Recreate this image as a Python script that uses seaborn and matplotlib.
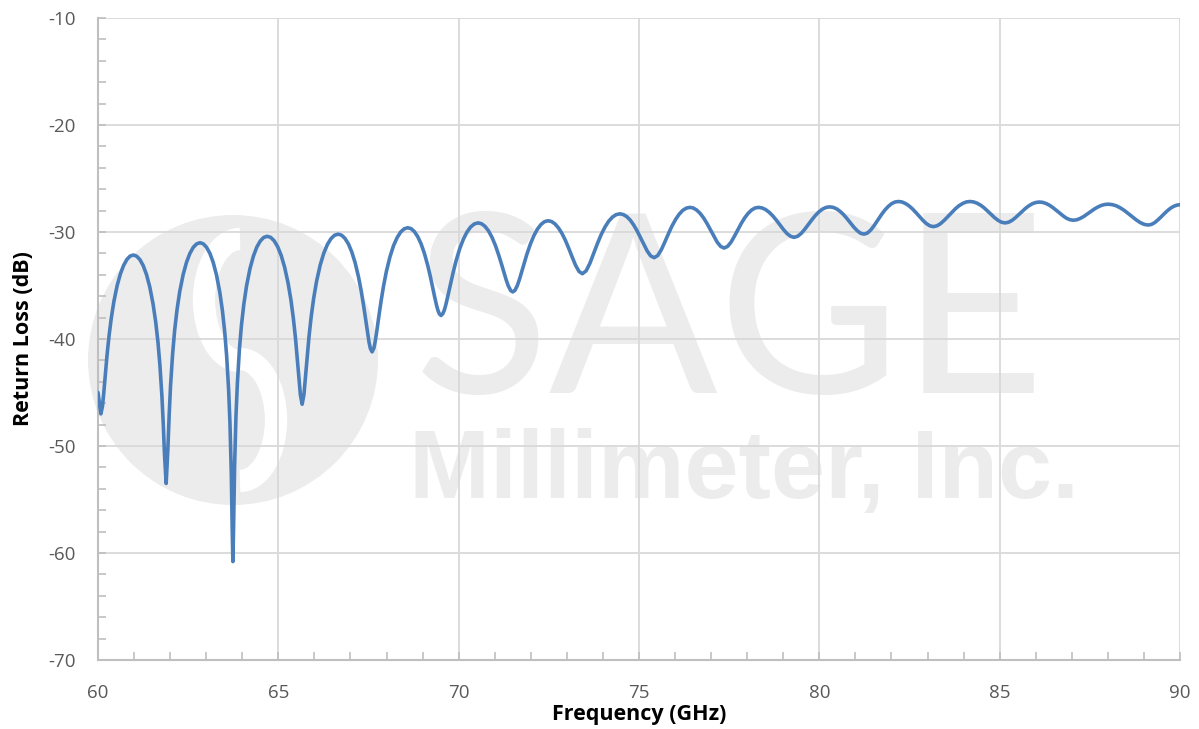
import matplotlib
matplotlib.use("Agg")
import matplotlib.pyplot as plt
from matplotlib.patches import Circle, Arc
from matplotlib.ticker import MultipleLocator
import seaborn as sns

# Return loss trace (GHz, dB)
freq_ghz = [
    60.000, 60.080, 60.125, 60.161, 60.197, 60.251, 60.305, 60.368, 60.440, 60.530,
    60.620, 60.710, 60.800, 60.890, 60.980, 61.071, 61.162, 61.253, 61.344, 61.435,
    61.526, 61.599, 61.663, 61.717, 61.772, 61.808, 61.845, 61.890, 61.937, 61.975,
    62.012, 62.069, 62.125, 62.191, 62.266, 62.360, 62.454, 62.548, 62.642, 62.736,
    62.830, 62.921, 63.012, 63.103, 63.194, 63.285, 63.376, 63.449, 63.513, 63.567,
    63.622, 63.658, 63.695, 63.722, 63.740, 63.759, 63.787, 63.825, 63.864, 63.920,
    63.977, 64.044, 64.120, 64.215, 64.310, 64.405, 64.500, 64.595, 64.690, 64.787,
    64.884, 64.981, 65.078, 65.175, 65.272, 65.350, 65.418, 65.476, 65.534, 65.573,
    65.612, 65.660, 65.710, 65.750, 65.790, 65.850, 65.910, 65.980, 66.060, 66.160,
    66.260, 66.360, 66.460, 66.560, 66.660, 66.754, 66.848, 66.942, 67.036, 67.130,
    67.224, 67.299, 67.365, 67.421, 67.478, 67.515, 67.553, 67.600, 67.650, 67.689,
    67.729, 67.788, 67.848, 67.917, 67.996, 68.095, 68.194, 68.293, 68.392, 68.491,
    68.590, 68.682, 68.774, 68.866, 68.958, 69.050, 69.142, 69.216, 69.280, 69.335,
    69.390, 69.427, 69.464, 69.510, 69.561, 69.603, 69.644, 69.706, 69.768, 69.840,
    69.922, 70.025, 70.128, 70.231, 70.334, 70.437, 70.540, 70.636, 70.732, 70.828,
    70.924, 71.020, 71.116, 71.193, 71.260, 71.318, 71.375, 71.442, 71.500, 71.559,
    71.627, 71.686, 71.745, 71.814, 71.892, 71.990, 72.088, 72.186, 72.284, 72.382,
    72.480, 72.575, 72.670, 72.765, 72.860, 72.955, 73.050, 73.145, 73.240, 73.335,
    73.430, 73.534, 73.638, 73.742, 73.846, 73.950, 74.054, 74.158, 74.262, 74.366,
    74.470, 74.565, 74.660, 74.755, 74.850, 74.945, 75.040, 75.135, 75.230, 75.325,
    75.420, 75.519, 75.618, 75.717, 75.816, 75.915, 76.014, 76.113, 76.212, 76.311,
    76.410, 76.505, 76.600, 76.695, 76.790, 76.885, 76.980, 77.075, 77.170, 77.265,
    77.360, 77.455, 77.550, 77.645, 77.740, 77.835, 77.930, 78.025, 78.120, 78.215,
    78.310, 78.409, 78.508, 78.607, 78.706, 78.805, 78.904, 79.003, 79.102, 79.201,
    79.300, 79.399, 79.498, 79.597, 79.696, 79.795, 79.894, 79.993, 80.092, 80.191,
    80.290, 80.385, 80.480, 80.575, 80.670, 80.765, 80.860, 80.955, 81.050, 81.145,
    81.240, 81.335, 81.430, 81.525, 81.620, 81.715, 81.810, 81.905, 82.000, 82.095,
    82.190, 82.287, 82.384, 82.481, 82.578, 82.675, 82.772, 82.869, 82.966, 83.063,
    83.160, 83.262, 83.364, 83.466, 83.568, 83.670, 83.772, 83.874, 83.976, 84.078,
    84.180, 84.277, 84.374, 84.471, 84.568, 84.665, 84.762, 84.859, 84.956, 85.053,
    85.150, 85.245, 85.340, 85.435, 85.530, 85.625, 85.720, 85.815, 85.910, 86.005,
    86.100, 86.194, 86.288, 86.382, 86.476, 86.570, 86.664, 86.758, 86.852, 86.946,
    87.040, 87.137, 87.234, 87.331, 87.428, 87.525, 87.622, 87.719, 87.816, 87.913,
    88.010, 88.121, 88.232, 88.343, 88.454, 88.565, 88.676, 88.787, 88.898, 89.009,
    89.120, 89.208, 89.296, 89.384, 89.472, 89.560, 89.648, 89.736, 89.824, 89.912,
    90.000,
]
return_loss_db = [
    -45.00, -47.00, -46.27, -45.00, -43.55, -41.49, -39.74, -38.05, -36.50, -35.02,
    -33.92, -33.12, -32.57, -32.25, -32.15, -32.26, -32.58, -33.14, -33.97, -35.13,
    -36.71, -38.39, -40.31, -42.46, -45.33, -47.83, -50.87, -53.50, -50.30, -46.96,
    -44.33, -41.38, -39.20, -37.26, -35.57, -33.99, -32.83, -32.00, -31.43, -31.11,
    -31.00, -31.11, -31.44, -32.00, -32.84, -34.01, -35.61, -37.33, -39.32, -41.58,
    -44.76, -47.80, -52.43, -57.92, -60.80, -57.62, -51.91, -47.23, -44.17, -40.99,
    -38.72, -36.73, -35.01, -33.41, -32.24, -31.40, -30.84, -30.51, -30.40, -30.50,
    -30.82, -31.37, -32.18, -33.30, -34.80, -36.37, -38.11, -39.94, -42.15, -43.75,
    -45.23, -46.10, -45.19, -43.66, -42.02, -39.79, -37.94, -36.19, -34.61, -33.10,
    -31.98, -31.17, -30.62, -30.30, -30.20, -30.30, -30.60, -31.11, -31.86, -32.88,
    -34.21, -35.53, -36.89, -38.19, -39.51, -40.30, -40.90, -41.20, -40.85, -40.17,
    -39.29, -37.85, -36.47, -35.05, -33.68, -32.32, -31.28, -30.53, -30.00, -29.70,
    -29.60, -29.69, -29.97, -30.44, -31.11, -32.00, -33.12, -34.18, -35.20, -36.08,
    -36.90, -37.34, -37.65, -37.80, -37.63, -37.29, -36.80, -35.90, -34.95, -33.88,
    -32.77, -31.60, -30.69, -30.00, -29.52, -29.24, -29.15, -29.23, -29.48, -29.90,
    -30.50, -31.27, -32.22, -33.06, -33.84, -34.48, -35.03, -35.47, -35.60, -35.46,
    -35.00, -34.42, -33.75, -32.95, -32.07, -31.11, -30.32, -29.72, -29.29, -29.03,
    -28.95, -29.02, -29.24, -29.61, -30.11, -30.75, -31.51, -32.32, -33.10, -33.68,
    -33.90, -33.63, -32.93, -32.02, -31.09, -30.25, -29.55, -29.00, -28.61, -28.38,
    -28.30, -28.37, -28.56, -28.88, -29.33, -29.88, -30.52, -31.18, -31.79, -32.24,
    -32.40, -32.20, -31.66, -30.93, -30.16, -29.44, -28.83, -28.34, -27.98, -27.77,
    -27.70, -27.76, -27.95, -28.26, -28.68, -29.20, -29.79, -30.40, -30.96, -31.35,
    -31.50, -31.35, -30.96, -30.40, -29.79, -29.20, -28.68, -28.26, -27.95, -27.76,
    -27.70, -27.75, -27.90, -28.15, -28.48, -28.88, -29.32, -29.76, -30.14, -30.40,
    -30.50, -30.40, -30.13, -29.74, -29.29, -28.85, -28.44, -28.10, -27.85, -27.70,
    -27.65, -27.70, -27.84, -28.07, -28.37, -28.74, -29.14, -29.54, -29.88, -30.12,
    -30.20, -30.09, -29.80, -29.37, -28.89, -28.41, -27.98, -27.63, -27.36, -27.20,
    -27.15, -27.19, -27.33, -27.54, -27.83, -28.17, -28.54, -28.90, -29.21, -29.42,
    -29.50, -29.42, -29.21, -28.90, -28.54, -28.17, -27.83, -27.54, -27.33, -27.19,
    -27.15, -27.19, -27.31, -27.49, -27.74, -28.04, -28.35, -28.66, -28.91, -29.09,
    -29.15, -29.09, -28.92, -28.67, -28.37, -28.07, -27.78, -27.54, -27.35, -27.24,
    -27.20, -27.23, -27.34, -27.50, -27.72, -27.97, -28.23, -28.49, -28.71, -28.85,
    -28.90, -28.86, -28.73, -28.55, -28.32, -28.09, -27.86, -27.67, -27.52, -27.43,
    -27.40, -27.44, -27.55, -27.74, -27.98, -28.27, -28.57, -28.87, -29.12, -29.29,
    -29.35, -29.29, -29.13, -28.88, -28.60, -28.30, -28.02, -27.78, -27.60, -27.49,
    -27.45,
]

x_ticks = [60, 65, 70, 75, 80, 85, 90]
y_ticks = [-70, -60, -50, -40, -30, -20, -10]

sns.set_theme(style="white")
plt.rcParams['font.family'] = ['Open Sans', 'DejaVu Sans']
plt.rcParams['axes.unicode_minus'] = False

fig = plt.figure(figsize=(11.99, 7.29), dpi=100)

# watermark behind the chart (pixel coordinates)
bg = fig.add_axes([0, 0, 1, 1], zorder=0)
bg.set_xlim(0, 1199)
bg.set_ylim(729, 0)
bg.axis('off')
wm = '#ececec'
bg.add_patch(Circle((233, 360), 145, color=wm, lw=0))
bg.add_patch(Arc((240, 300), 72, 122, theta1=90, theta2=270, color='white', lw=16))
bg.add_patch(Arc((240, 420), 72, 122, theta1=-90, theta2=90, color='white', lw=16))
bg.text(414, 393, "SAGE", fontsize=180, color=wm, ha='left', va='baseline',
        family=['Lato', 'DejaVu Sans'], fontweight='normal')
bg.text(409, 498, "Millimeter, Inc.", fontsize=70, color=wm, ha='left', va='baseline',
        family=['Liberation Sans', 'DejaVu Sans'], fontweight='bold')

# main chart
ax = fig.add_axes([98 / 1199, 69 / 729, 1082 / 1199, 642 / 729], zorder=1)
ax.patch.set_alpha(0)

sns.lineplot(x=freq_ghz, y=return_loss_db, ax=ax, color='#4a7ebb', linewidth=2.6, zorder=3)
ax.lines[0].set_solid_joinstyle('round')
ax.lines[0].set_solid_capstyle('round')

ax.set_xlim(60, 90)
ax.set_ylim(-70, -10)
ax.set_xticks(x_ticks)
ax.set_yticks(y_ticks)
ax.xaxis.set_minor_locator(MultipleLocator(1))
ax.yaxis.set_minor_locator(MultipleLocator(2))
ax.grid(True, which='major', color='#d9d9d9', lw=1.3)
ax.grid(False, which='minor')

for side in ['top', 'right']:
    ax.spines[side].set_visible(False)
for side in ['left', 'bottom']:
    ax.spines[side].set_color('#bfbfbf')
    ax.spines[side].set_linewidth(1.5)

ax.tick_params(which='both', direction='in', color='#bfbfbf', width=1.2, length=6,
               labelcolor='#595959', labelsize=13.5)
ax.tick_params(axis='x', which='both', bottom=True, pad=17)
ax.tick_params(axis='y', which='both', left=True, pad=16)

ax.set_xlabel('Frequency (GHz)', fontsize=15.5, fontweight='bold', color='black', labelpad=2)
ax.set_ylabel('Return Loss (dB)', fontsize=15.5, fontweight='bold', color='black', labelpad=10)

fig.savefig('out.png', dpi=100)
